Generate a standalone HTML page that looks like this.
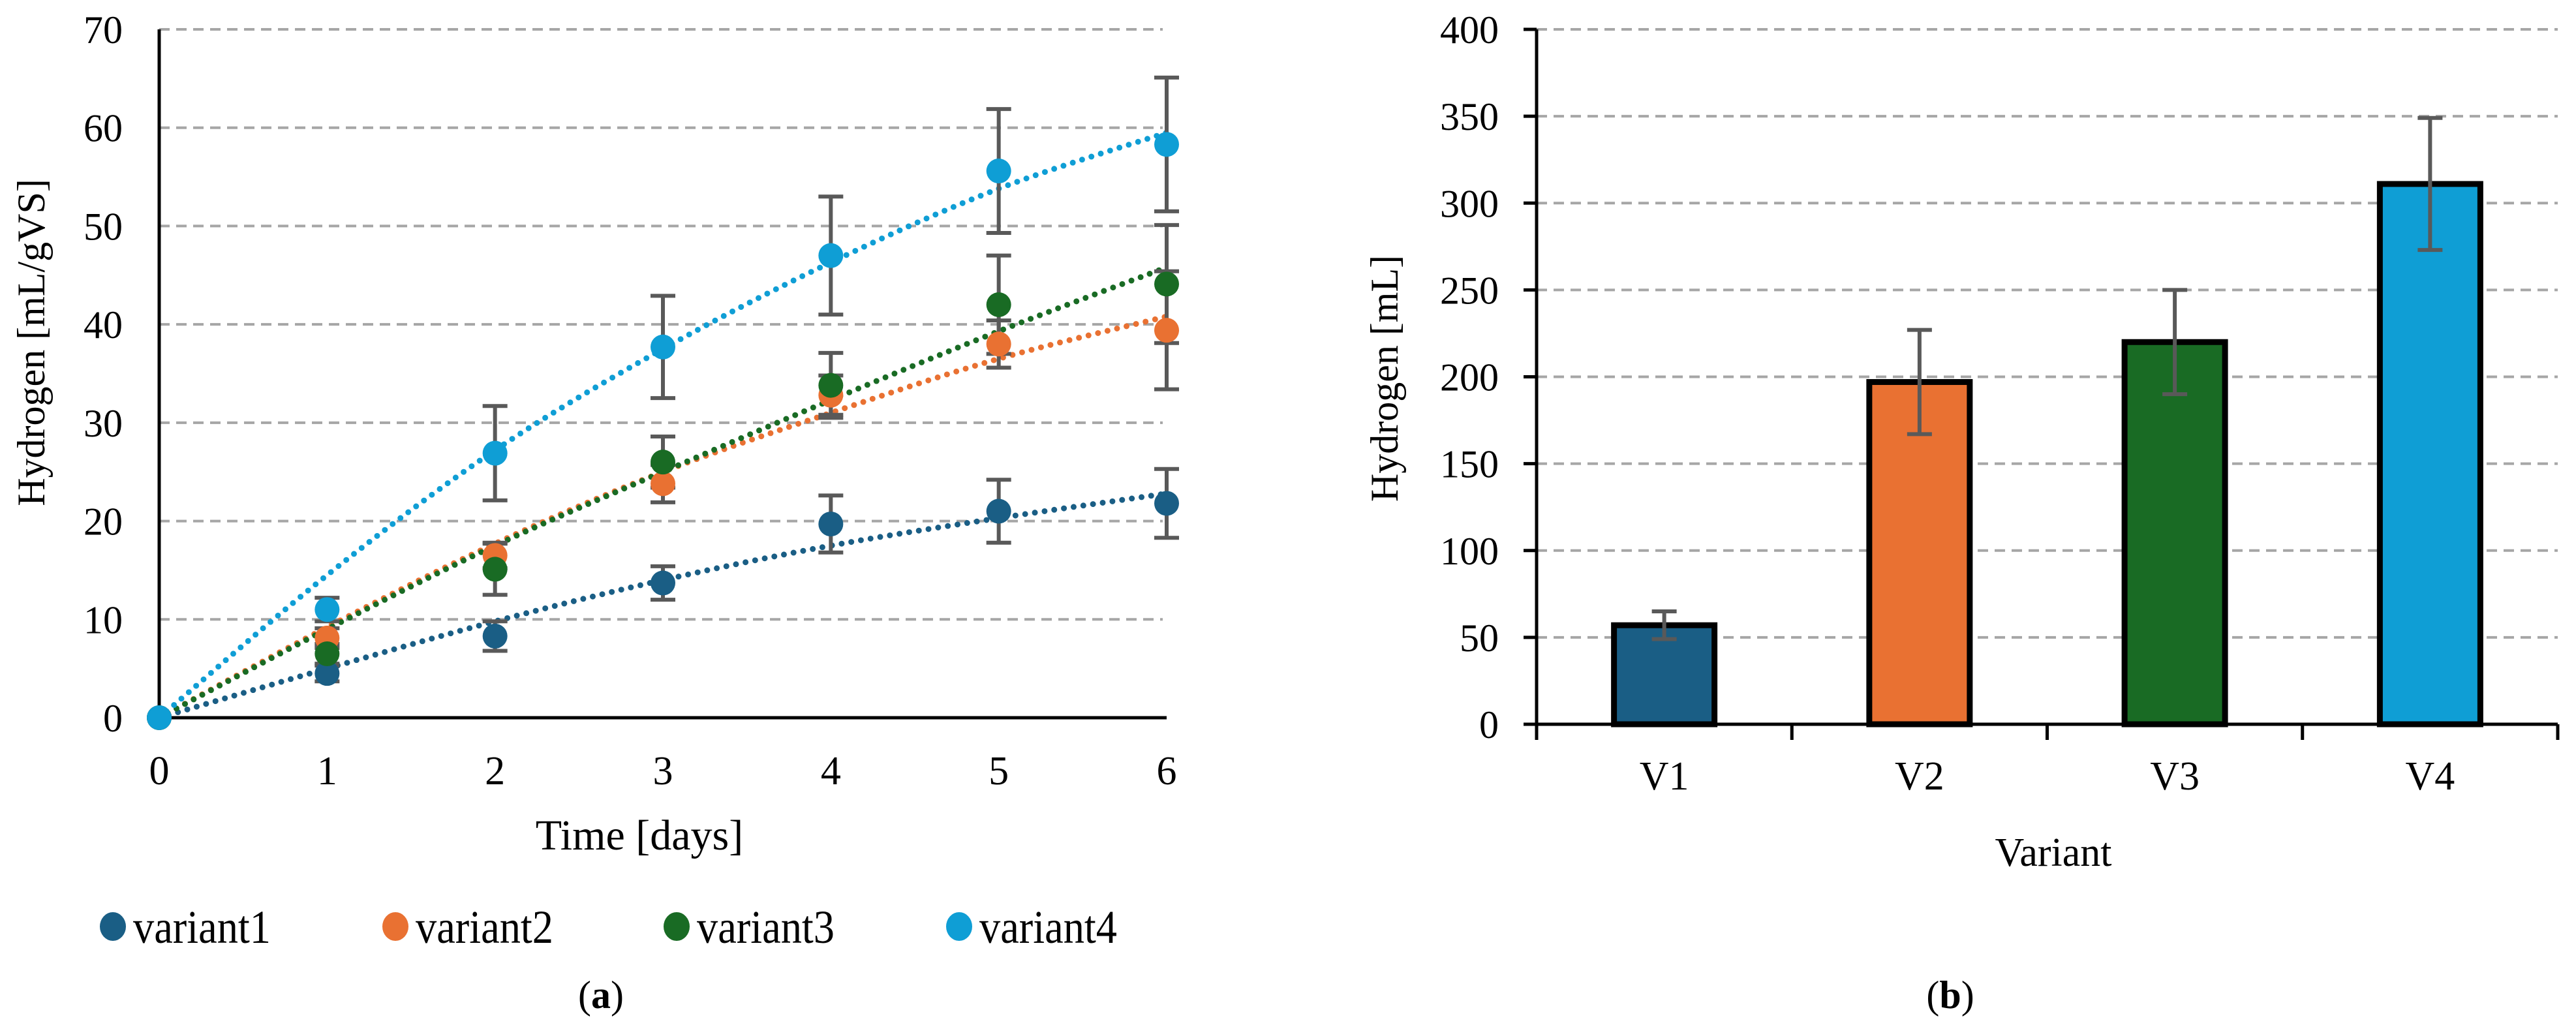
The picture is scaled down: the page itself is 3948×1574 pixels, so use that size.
<!DOCTYPE html>
<html><head><meta charset="utf-8"><style>
html,body{margin:0;padding:0;background:#fff}
svg{display:block;font-family:"Liberation Serif",serif}
</style></head><body>
<svg id="chart" width="3948" height="1574" viewBox="0 0 3948 1574" xmlns="http://www.w3.org/2000/svg"></svg>
<script>
// ---- Chart (a) data ----
const days = [0,1,2,3,4,5,6];
const yTicksA = [0,10,20,30,40,50,60,70];
const seriesNames = ['variant1','variant2','variant3','variant4'];
const v1 = [0,4.5,8.3,13.7,19.7,21.0,21.8];
const v2 = [0,8.1,16.5,23.8,32.8,38.0,39.4];
const v3 = [0,6.5,15.1,26.0,33.8,42.0,44.1];
const v4 = [0,11.0,26.9,37.7,47.0,55.6,58.3];
const e1 = [0,0.8,1.5,1.7,2.9,3.2,3.5];
const e2 = [0,1.0,1.3,1.9,2.0,2.4,6.0];
const e3 = [0,1.0,2.6,2.6,3.3,5.0,6.0];
const e4 = [0,1.2,4.8,5.2,6.0,6.3,6.8];
const t1 = [0,5.0,9.8,14.0,17.5,20.3,22.8];
const t2 = [0,9.2,17.7,25.0,31.0,36.5,40.8];
const t3 = [0,9.0,17.5,25.0,32.3,39.3,45.8];
const t4 = [0,14.5,27.2,37.5,46.3,53.8,59.5];
// ---- Chart (b) data ----
const variants = ['V1','V2','V3','V4'];
const totals = [57,197,220,311];
const totalErr = [8,30,30,38];
const yTicksB = [0,50,100,150,200,250,300,350,400];

const colors = ['#1a5e85','#e97132','#196b24','#0f9ed5'];
const NS='http://www.w3.org/2000/svg';
const svg=document.getElementById('chart');
function mk(tag,attrs,parent){const e=document.createElementNS(NS,tag);for(const k in attrs)e.setAttribute(k,attrs[k]);(parent||svg).appendChild(e);return e;}
function txt(s,attrs,parent){const e=mk('text',attrs,parent);e.textContent=s;return e;}

// ===== Chart (a) =====
const gA=mk('g',{});


const ax0=244, ax1=1788, ay0=1100, ay1=45;
const xA=d=>ax0+(d-0)/6*(ax1-ax0);
const yA=v=>ay0-(v/70)*(ay0-ay1);
yTicksA.forEach(t=>{
  if(t>0){const l=mk('line',{x1:ax0,x2:ax1-6,y1:yA(t),y2:yA(t),stroke:'#a6a6a6','stroke-width':4,'stroke-dasharray':'16 10'},gA);
  
  }
  const tl=txt(String(t),{x:188,y:yA(t)+21,'font-size':60,'text-anchor':'end',fill:'#000'},gA);
  
  
});
days.forEach(d=>{
  const tl=txt(String(d),{x:xA(d),y:1202,'font-size':62,'text-anchor':'middle',fill:'#000'},gA);
  
  
});
const axA=mk('path',{d:`M${ax0} ${ay1} V${ay0} H${ax1}`,fill:'none',stroke:'#000','stroke-width':5},gA);


const yt=txt('Hydrogen [mL/gVS]',{x:0,y:0,'font-size':60,'text-anchor':'middle',transform:`translate(68 ${525}) rotate(-90)`},gA);


const xt=txt('Time [days]',{x:980,y:1302,'font-size':66,'text-anchor':'middle'},gA);



const vals=[v1,v2,v3,v4], errs=[e1,e2,e3,e4], trends=[t1,t2,t3,t4];
function smooth(pts){let d=`M${pts[0][0]} ${pts[0][1]}`;for(let i=0;i<pts.length-1;i++){const p0=pts[i-1]||pts[i],p1=pts[i],p2=pts[i+1],p3=pts[i+2]||p2;
 d+=` C${p1[0]+(p2[0]-p0[0])/6} ${p1[1]+(p2[1]-p0[1])/6} ${p2[0]-(p3[0]-p1[0])/6} ${p2[1]-(p3[1]-p1[1])/6} ${p2[0]} ${p2[1]}`;}return d;}
trends.forEach((t,i)=>{
  const p=mk('path',{d:smooth(days.map((d,j)=>[xA(d),yA(t[j])])),fill:'none',stroke:colors[i],'stroke-width':9,'stroke-linecap':'round','stroke-dasharray':'0 15'},gA);
  
  
});
vals.forEach((s,i)=>{
  s.forEach((v,j)=>{
    if(errs[i][j]>0){
      const x=xA(days[j]),yh=yA(v+errs[i][j]),yl=yA(v-errs[i][j]);
      const eb=mk('path',{d:`M${x} ${yh} V${yl} M${x-19} ${yh} H${x+19} M${x-19} ${yl} H${x+19}`,stroke:'#595959','stroke-width':6,fill:'none'},gA);
      
      
    }
  });
});
vals.forEach((s,i)=>{
  s.forEach((v,j)=>{
    const c=mk('ellipse',{cx:xA(days[j]),cy:yA(v),rx:19,ry:19,fill:colors[i]},gA);
    
    
  });
});
const legX=[173,606,1037,1470];
seriesNames.forEach((n,i)=>{
  const g=mk('g',{},gA);
  
  
  mk('ellipse',{cx:legX[i],cy:1420,rx:20,ry:22,fill:colors[i]},g);
  txt(n,{x:legX[i]+31,y:1445,'font-size':72,textLength:211,lengthAdjust:'spacingAndGlyphs'},g);
});
const capA=txt('',{x:921,y:1545,'font-size':60,'text-anchor':'middle'});
capA.innerHTML='(<tspan font-weight="bold">a</tspan>)';



// ===== Chart (b) =====
const gB=mk('g',{});


const bx0=2355,bx1=3920,by0=1110,by1=45;
const yB=v=>by0-(v/400)*(by0-by1);
const band=(bx1-bx0)/variants.length;
const xB=i=>bx0+band*(i+0.5);
yTicksB.forEach(t=>{
  if(t>0){const l=mk('line',{x1:bx0,x2:bx1,y1:yB(t),y2:yB(t),stroke:'#a6a6a6','stroke-width':4,'stroke-dasharray':'16 10'},gB);
  
  }
  mk('line',{x1:bx0-20,x2:bx0,y1:yB(t),y2:yB(t),stroke:'#000','stroke-width':5},gB);
  const tl=txt(String(t),{x:2297,y:yB(t)+21,'font-size':60,'text-anchor':'end'},gB);
  
  
});
for(let i=0;i<=variants.length;i++){mk('line',{x1:bx0+band*i,x2:bx0+band*i,y1:by0,y2:by0+24,stroke:'#000','stroke-width':5},gB);}
totals.forEach((v,i)=>{
  const r=mk('rect',{x:xB(i)-77,y:yB(v),width:154,height:by0-yB(v),fill:colors[i],stroke:'#000','stroke-width':9},gB);
  
  
});
totals.forEach((v,i)=>{
  const x=xB(i),yh=yB(v+totalErr[i]),yl=yB(v-totalErr[i]);
  const eb=mk('path',{d:`M${x} ${yh} V${yl} M${x-19} ${yh} H${x+19} M${x-19} ${yl} H${x+19}`,stroke:'#595959','stroke-width':6,fill:'none'},gB);
  
  
  const tl=txt(variants[i],{x:x,y:1210,'font-size':62,'text-anchor':'middle'},gB);
  
  
});
const axB=mk('path',{d:`M${bx0} ${by1} V${by0} H${bx1}`,fill:'none',stroke:'#000','stroke-width':5},gB);


const ytb=txt('Hydrogen [mL]',{x:0,y:0,'font-size':60,'text-anchor':'middle',transform:'translate(2142 580) rotate(-90)'},gB);


const xtb=txt('Variant',{x:3147,y:1327,'font-size':62,'text-anchor':'middle'},gB);


const capB=txt('',{x:2989,y:1545,'font-size':60,'text-anchor':'middle'});
capB.innerHTML='(<tspan font-weight="bold">b</tspan>)';


</script>
</body></html>
